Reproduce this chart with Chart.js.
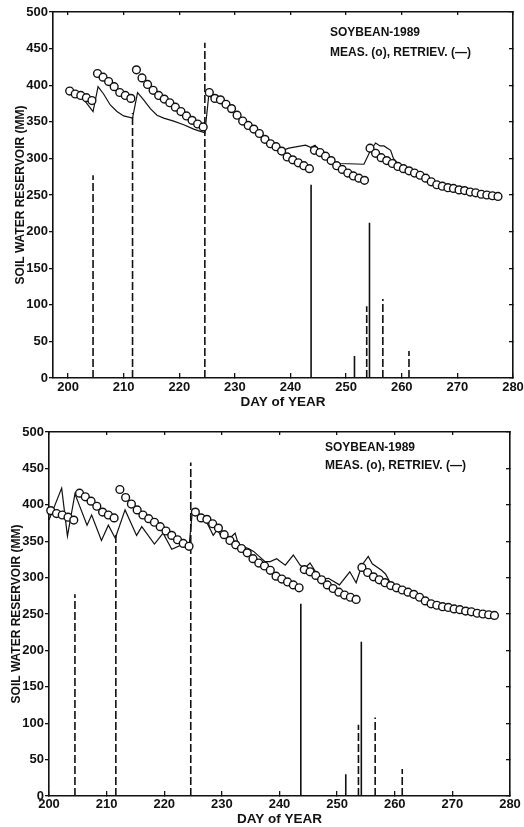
<!DOCTYPE html>
<html><head><meta charset="utf-8">
<script src="https://cdn.jsdelivr.net/npm/chart.js@4.4.1/dist/chart.umd.min.js"></script>
<style>
html,body{margin:0;padding:0;background:#fff;}
#wrap{position:relative;width:524px;height:827px;overflow:hidden;background:#fff;}
.panel{position:absolute;left:0;width:524px;}
.note{position:absolute;font:bold 12px "Liberation Sans",Arial,Helvetica,sans-serif;color:#111;line-height:1;white-space:nowrap;}
</style></head>
<body>
<div id="wrap">
<div class="panel" style="top:0;height:410px"><canvas id="c1" width="524" height="410" style="width:524px;height:410px"></canvas></div>
<div class="panel" style="top:414px;height:413px"><canvas id="c2" width="524" height="413" style="width:524px;height:413px"></canvas></div>
<div class="note" style="left:330px;top:26px">SOYBEAN-1989</div>
<div class="note" style="left:330px;top:46px">MEAS. (o), RETRIEV. (—)</div>
<div class="note" style="left:325px;top:441px">SOYBEAN-1989</div>
<div class="note" style="left:325px;top:459px">MEAS. (o), RETRIEV. (—)</div>
</div>
<script>
// ---- data ----
const xTicks = [200, 210, 220, 230, 240, 250, 260, 270, 280];
const yTicks = [0, 50, 100, 150, 200, 250, 300, 350, 400, 450, 500];

const measDays = [200.3, 201.3, 202.3, 203.3, 204.3,
  205.3, 206.3, 207.3, 208.3, 209.3, 210.3, 211.3,
  212.3, 213.3, 214.3, 215.3, 216.3, 217.3, 218.3, 219.3, 220.3, 221.3, 222.3, 223.3, 224.3,
  225.4, 226.4, 227.4, 228.4, 229.4, 230.4, 231.4, 232.4, 233.4, 234.4, 235.4, 236.4, 237.4, 238.4, 239.4, 240.4, 241.4, 242.4, 243.4,
  244.3, 245.3, 246.3, 247.3, 248.3, 249.3, 250.3, 251.3, 252.3, 253.3,
  254.3, 255.3, 256.3, 257.3, 258.3, 259.3, 260.3, 261.3, 262.3, 263.3, 264.3, 265.3, 266.3, 267.3, 268.3, 269.3, 270.3, 271.3, 272.3, 273.3, 274.3, 275.3, 276.3, 277.3];
const measVals = [392, 388, 386, 383, 379,
  416, 411, 405, 398, 390, 386, 382,
  421, 410, 401, 393, 386, 381, 376, 370, 364, 358, 352, 347, 343,
  390, 382, 380, 374, 368, 359, 351, 345, 340, 334, 326, 320, 316, 310, 302, 298, 294, 290, 286,
  311, 308, 303, 297, 290, 285, 280, 276, 273, 270,
  314, 307, 301, 297, 293, 289, 286, 283, 280, 277, 273, 268, 264, 262, 260, 259, 257, 256, 254, 253, 251, 250, 249, 248];

const retTopDays = [200.3, 201.3, 202.3, 203.2, 204.5, 205.4, 206.4, 207.6, 208.8, 210.0, 211.6, 212.5, 213.6, 214.8, 216.0, 217.2, 219.0, 220.8, 222.6, 223.8, 224.6,
  225.3, 226.5, 227.6, 228.6, 229.5, 230.4, 231.3, 232.2, 233.1, 234.0, 235.0, 236.0, 237.0, 237.9, 239.7, 242.7, 243.6, 244.4, 245.7, 247.2, 249.0, 253.2,
  254.4, 255.3, 256.1, 256.8, 258.0, 258.5, 259.8, 261.6, 263.4, 265.2, 267.0, 268.8, 270.6, 272.4, 274.2, 276.0, 277.2];
const retTopVals = [391, 388, 385, 377, 364, 398, 388, 373, 364, 358, 355, 390, 380, 368, 359, 355, 351, 346, 340, 337, 335,
  386, 380, 377, 370, 364, 357, 350, 344, 339, 334, 327, 320, 314, 309, 314, 318, 315, 318, 307, 295, 293, 292,
  311, 321, 317, 317, 311, 300, 289, 282, 276, 269, 262, 259, 257, 254, 251, 249, 248];

const retBotDays = [200.0, 202.2, 203.2, 204.5, 206.6, 207.4, 209.1, 210.3, 211.5, 213.2, 215.2, 216.1, 218.3, 219.8, 221.3, 223.0, 224.3,
  224.9, 226.2, 227.3, 228.5, 229.2, 230.0, 230.5, 231.1, 232.3, 232.9, 234.6, 235.5, 237.5, 238.4, 239.5, 241.0, 242.4, 243.6, 244.4, 245.3,
  246.5, 247.5, 248.5, 250.4, 252.2, 253.3, 254.3, 255.4, 256.1, 257.7, 258.4, 259.3, 261.3, 263.3, 265.3, 267.3, 269.3, 271.3, 273.3, 275.3, 277.3];
const retBotVals = [379, 423, 357, 415, 372, 386, 351, 372, 354, 393, 358, 370, 346, 361, 339, 345, 342,
  393, 380, 377, 358, 366, 355, 363, 352, 361, 345, 340, 336, 322, 322, 326, 317, 331, 317, 313, 320,
  305, 298, 299, 290, 308, 293, 317, 329, 319, 310, 305, 292, 284, 277, 268, 262, 259, 256, 253, 250, 248];

const rainDays  = [204.5, 211.6, 224.6, 243.7, 251.5, 253.7, 254.2, 256.6, 261.3];
const rainAmts  = [277, 362, 458, 264, 30, 98, 212, 108, 37];
const rainSolid = [false, false, false, true, true, false, true, false, false];

// ---- drawing ----
const FONT = '"Liberation Sans", Arial, Helvetica, sans-serif';
const INK = '#111';

function rainSeries(solid) {
  const pts = [];
  rainDays.forEach((d, i) => {
    if (rainSolid[i] === solid) pts.push({x: d, y: 0}, {x: d, y: rainAmts[i]}, {x: d, y: null});
  });
  return pts;
}
function pairs(xs, ys) { return xs.map((x, i) => ({x: x, y: ys[i]})); }
function setTicks(list) { return s => { s.ticks = list.map(v => ({value: v})); }; }
function fixW(w) { return s => { s.width = w; s.paddingTop = 0; s.paddingBottom = 0; s.paddingLeft = 0; s.paddingRight = 0; }; }
function fixH(h) { return s => { s.height = h; s.paddingTop = 0; s.paddingBottom = 0; s.paddingLeft = 0; s.paddingRight = 0; }; }

function makeChart(id, c) {
  const border = {display: true, color: INK, width: 1.6};
  const tickFont = {family: FONT, size: 13, weight: 'bold'};
  new Chart(document.getElementById(id), {
    type: 'line',
    data: {
      datasets: [
        {label: 'MEAS.', data: pairs(measDays, measVals), showLine: false, pointRadius: 3.9, pointBorderWidth: 1.4,
         pointBorderColor: INK, pointBackgroundColor: '#fff', pointStyle: 'circle', clip: false},
        {label: 'RETRIEV.', data: pairs(c.retDays, c.retVals), borderColor: INK, borderWidth: 1.2, pointRadius: 0, tension: 0, fill: false},
        {label: 'rain', data: rainSeries(false), borderColor: INK, borderWidth: 1.6, borderDash: [8, 3], pointRadius: 0, spanGaps: false, fill: false},
        {label: 'rain2', data: rainSeries(true), borderColor: INK, borderWidth: 1.6, pointRadius: 0, spanGaps: false, fill: false}
      ]
    },
    options: {
      responsive: false, animation: false, devicePixelRatio: 1,
      layout: {padding: 0, autoPadding: false},
      plugins: {legend: {display: false}, tooltip: {enabled: false}},
      scales: {
        x: {type: 'linear', position: 'bottom', min: c.xmin, max: 280,
            afterBuildTicks: setTicks(xTicks), afterFit: fixH(c.h - c.bottom),
            grid: {drawOnChartArea: false, drawTicks: true, tickLength: -5, color: INK, lineWidth: 1.3},
            border: border,
            ticks: {font: tickFont, color: INK, padding: c.xpad, maxRotation: 0, autoSkip: false},
            title: {display: true, text: 'DAY of YEAR', color: INK, font: {family: FONT, size: 13.5, weight: 'bold', lineHeight: 1}, padding: {top: 0, bottom: c.xtpad}}},
        x2: {type: 'linear', position: 'top', min: c.xmin, max: 280,
            afterBuildTicks: setTicks(xTicks), afterFit: fixH(c.top),
            grid: {drawOnChartArea: false, drawTicks: true, tickLength: -3, color: INK, lineWidth: 1.3},
            border: border, ticks: {display: false}},
        y: {type: 'linear', position: 'left', min: 0, max: 500,
            afterBuildTicks: setTicks(yTicks), afterFit: fixW(c.left),
            grid: {drawOnChartArea: false, drawTicks: true, tickLength: 4, color: INK, lineWidth: 1.3},
            border: border,
            ticks: {font: tickFont, color: INK, padding: 1, autoSkip: false},
            title: {display: true, text: 'SOIL WATER RESERVOIR (MM)', color: INK, font: {family: FONT, size: 12, weight: 'bold', lineHeight: 1}, padding: {top: c.ytpad, bottom: 0}}},
        y2: {type: 'linear', position: 'right', min: 0, max: 500,
            afterBuildTicks: setTicks(yTicks), afterFit: fixW(524 - c.right),
            grid: {drawOnChartArea: false, drawTicks: true, tickLength: -4, color: INK, lineWidth: 1.3},
            border: border, ticks: {display: false}}
      }
    }
  });
}

makeChart('c1', {h: 410, top: 12, bottom: 378, left: 53, right: 513, xmin: 197.3, xpad: 7, xtpad: 1, ytpad: 15,
                 retDays: retTopDays, retVals: retTopVals});
makeChart('c2', {h: 413, top: 18, bottom: 382, left: 49, right: 510, xmin: 200, xpad: 6, xtpad: 0.5, ytpad: 11,
                 retDays: retBotDays, retVals: retBotVals});
</script>
</body></html>
